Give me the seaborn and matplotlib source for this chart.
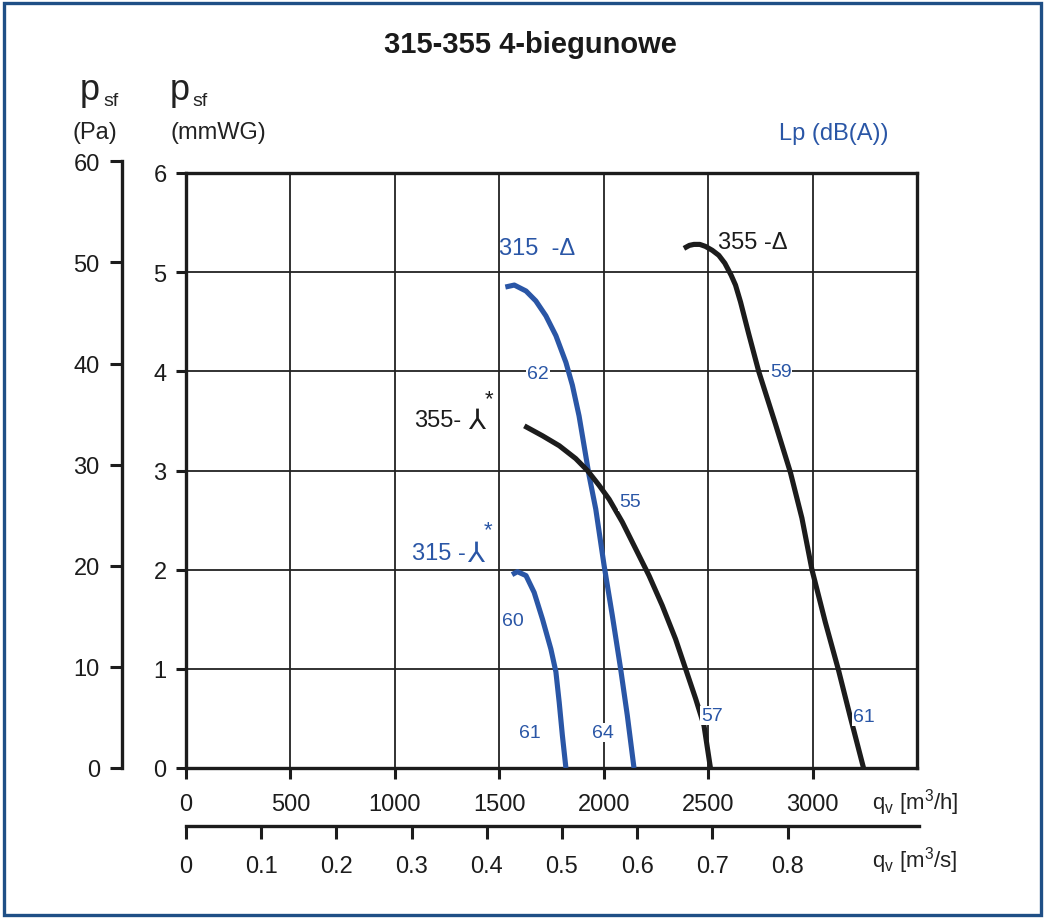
import matplotlib
matplotlib.use("Agg")
import matplotlib.pyplot as plt
import seaborn as sns
from matplotlib.patches import Rectangle

sns.set_theme(style="white")
plt.rcParams['font.family'] = ['Liberation Sans', 'DejaVu Sans']
plt.rcParams['mathtext.fontset'] = 'custom'
plt.rcParams['mathtext.rm'] = 'Liberation Sans'
plt.rcParams['mathtext.it'] = 'Liberation Sans:italic'

# --- dane (q w m3/h, p w mmWG) ---
q_315_delta = [1529, 1572, 1628, 1675, 1723, 1771, 1819, 1850, 1882, 1906, 1930, 1962, 2002, 2041, 2081, 2113, 2145]
p_315_delta = [4.85, 4.87, 4.81, 4.71, 4.56, 4.36, 4.09, 3.86, 3.55, 3.25, 2.95, 2.61, 2.04, 1.54, 1.00, 0.53, 0.0]

q_315_star = [1561, 1587, 1628, 1667, 1707, 1747, 1771, 1787, 1802, 1819]
p_315_star = [1.95, 1.98, 1.94, 1.77, 1.50, 1.20, 0.97, 0.66, 0.33, 0.0]

q_355_star = [1620, 1707, 1787, 1866, 1922, 1978, 2026, 2089, 2153, 2217, 2280, 2344, 2392, 2440, 2480, 2511]
p_355_star = [3.45, 3.35, 3.25, 3.12, 3.00, 2.85, 2.71, 2.48, 2.21, 1.94, 1.64, 1.30, 1.00, 0.70, 0.43, 0.0]

q_355_delta = [2384, 2410, 2432, 2460, 2487, 2520, 2551, 2580, 2610, 2631, 2655, 2694, 2742, 2822, 2894, 2949, 2997, 3061, 3125, 3180, 3244]
p_355_delta = [5.24, 5.27, 5.28, 5.28, 5.26, 5.22, 5.17, 5.09, 4.97, 4.87, 4.70, 4.38, 4.00, 3.47, 2.98, 2.52, 2.00, 1.47, 0.98, 0.52, 0.0]

# poziomy dzwieku Lp dB(A): tekst, q, p
lp_labels = ['62', '59', '55', '60', '61', '64', '57', '61']
lp_q = [1686, 2847, 2126, 1567, 1648, 1997, 2518, 3244]
lp_p = [3.98, 4.00, 2.69, 1.49, 0.36, 0.36, 0.53, 0.52]

x_ticks = [0, 500, 1000, 1500, 2000, 2500, 3000]
y_ticks = [0, 1, 2, 3, 4, 5, 6]
pa_ticks = [0, 10, 20, 30, 40, 50, 60]
ms_ticks = [0, 0.1, 0.2, 0.3, 0.4, 0.5, 0.6, 0.7, 0.8]
ms_labels = ['0', '0.1', '0.2', '0.3', '0.4', '0.5', '0.6', '0.7', '0.8']

BLUE = '#2a56a6'
DARK = '#1c1c1c'
W, H = 1045, 920


def fx(px):
    return px / W


def fy(py):
    return 1 - py / H


fig = plt.figure(figsize=(W / 100, H / 100), dpi=100)

# glowny wykres
ax = fig.add_axes([fx(186), fy(769), 731 / W, 595 / H])
ax.set_xlim(0, 3500)
ax.set_ylim(0, 6)
ax.set_xticks(x_ticks + [3500])
ax.set_xticklabels([str(t) for t in x_ticks] + [''])
ax.set_yticks(y_ticks)
ax.set_yticklabels([str(t) for t in y_ticks])
ax.grid(True, color='#222222', lw=1.3)
for s in ax.spines.values():
    s.set_color(DARK)
    s.set_linewidth(2.4)
ax.tick_params(axis='x', direction='out', length=8, width=2.2, pad=10,
               labelsize=17, colors=DARK, bottom=True)
ax.tick_params(axis='y', direction='out', length=7, width=2.2, pad=7,
               labelsize=17, colors=DARK, left=True)
ax.xaxis.get_major_ticks()[-1].tick1line.set_visible(False)

for q, p, c in [(q_315_delta, p_315_delta, BLUE), (q_315_star, p_315_star, BLUE),
                (q_355_star, p_355_star, DARK), (q_355_delta, p_355_delta, DARK)]:
    sns.lineplot(x=q, y=p, ax=ax, color=c, lw=3.7, sort=False, zorder=3,
                 solid_capstyle='butt', solid_joinstyle='round')

for t, q, p in zip(lp_labels, lp_q, lp_p):
    ax.text(q, p, t, color=BLUE, fontsize=14, ha='center', va='center', zorder=4,
            bbox=dict(facecolor='white', edgecolor='none', pad=0.5))

# opisy krzywych
ax.text(1500, 5.24, '315  -Δ', color=BLUE, fontsize=17, ha='left', va='center')
ax.text(2546, 5.30, '355 -Δ', color=DARK, fontsize=17, ha='left', va='center')
ax.text(1094, 3.51, '355-', color=DARK, fontsize=17, ha='left', va='center')
ax.text(1392, 3.51, '⅄', color=DARK, fontsize=20, family='DejaVu Sans', ha='center', va='center')
ax.text(1450, 3.72, '*', color=DARK, fontsize=16, ha='center', va='center')
ax.text(1080, 2.17, '315 -', color=BLUE, fontsize=17, ha='left', va='center')
ax.text(1388, 2.17, '⅄', color=BLUE, fontsize=20, family='DejaVu Sans', ha='center', va='center')
ax.text(1446, 2.40, '*', color=BLUE, fontsize=16, ha='center', va='center')
ax.set_xlabel('')
ax.set_ylabel('')

# os Pa
ax_pa = fig.add_axes([fx(122), fy(769), 0.0001, (60 / 9.80665 * 595 / 6) / H])
ax_pa.set_facecolor('none')
ax_pa.set_ylim(0, 60)
ax_pa.set_yticks(pa_ticks)
ax_pa.set_yticklabels([str(t) for t in pa_ticks])
ax_pa.set_xticks([])
for k in ['top', 'right', 'bottom']:
    ax_pa.spines[k].set_visible(False)
ax_pa.spines['left'].set_linewidth(2.4)
ax_pa.spines['left'].set_color(DARK)
ax_pa.tick_params(axis='y', direction='out', length=9, width=2.2, pad=7,
                  labelsize=17, colors=DARK, left=True)

# os m3/s
ax_s = fig.add_axes([fx(186), fy(827), 733 / W, 0.0001])
ax_s.set_facecolor('none')
ax_s.set_xlim(0, 3500 / 3600 * 733 / 731)
ax_s.set_xticks(ms_ticks)
ax_s.set_xticklabels(ms_labels)
ax_s.set_yticks([])
for k in ['top', 'right', 'left']:
    ax_s.spines[k].set_visible(False)
ax_s.spines['bottom'].set_linewidth(2.4)
ax_s.spines['bottom'].set_color(DARK)
ax_s.tick_params(axis='x', direction='out', length=9, width=2.2, pad=12,
                 labelsize=17, colors=DARK, bottom=True)

# opisy osi
fig.text(0.5075, fy(45), '315-355 4-biegunowe', fontsize=21, fontweight='bold',
         color='#1a1a1a', ha='center', va='center')
fig.text(fx(80), fy(100), 'p', fontsize=26, color='#222222', ha='left', va='baseline')
fig.text(fx(103), fy(106), 'sf', fontsize=14, color='#222222', ha='left', va='baseline')
fig.text(fx(95), fy(133), '(Pa)', fontsize=17, color='#222222', ha='center', va='center')
fig.text(fx(170), fy(100), 'p', fontsize=26, color='#222222', ha='left', va='baseline')
fig.text(fx(192), fy(106), 'sf', fontsize=14, color='#222222', ha='left', va='baseline')
fig.text(fx(170), fy(133), '(mmWG)', fontsize=17, color='#222222', ha='left', va='center')
fig.text(fx(779), fy(134), 'Lp (dB(A))', fontsize=17, color=BLUE, ha='left', va='center')
fig.text(fx(872), fy(803), r'q$_\mathrm{v}$ [m$^3$/h]', fontsize=16, color='#222222',
         ha='left', va='center')
fig.text(fx(872), fy(861), r'q$_\mathrm{v}$ [m$^3$/s]', fontsize=16, color='#222222',
         ha='left', va='center')

# ramka
fig.patches.append(Rectangle((fx(4), fy(916)), 1037 / W, 912 / H, transform=fig.transFigure,
                             fill=False, edgecolor='#1f4f86', lw=2.4))

fig.savefig('out.png', dpi=100, facecolor='white')
